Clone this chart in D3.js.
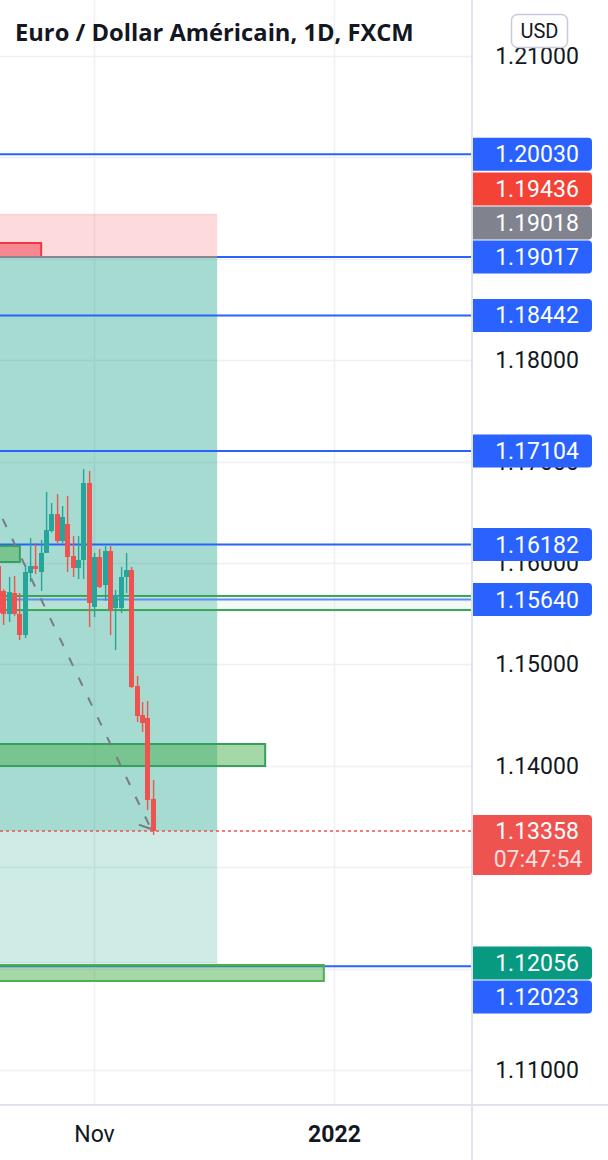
<!DOCTYPE html>
<html><head><meta charset="utf-8">
<script src="https://cdn.jsdelivr.net/npm/d3@7"></script>
<style>html,body{margin:0;padding:0;background:#fff;} svg{display:block;}</style>
</head><body>
<svg id="c" width="608" height="1160"></svg>
<script>
// ---------------- DATA ----------------
const dates = ["2021-10-06","2021-10-07","2021-10-08","2021-10-11","2021-10-12","2021-10-13","2021-10-14","2021-10-15",
  "2021-10-18","2021-10-19","2021-10-20","2021-10-21","2021-10-22","2021-10-25","2021-10-26","2021-10-27","2021-10-28","2021-10-29",
  "2021-11-01","2021-11-02","2021-11-03","2021-11-04","2021-11-05","2021-11-08","2021-11-09","2021-11-10","2021-11-11","2021-11-12",
  "2021-11-15","2021-11-16"];
const opens  = [1.15970,1.15724,1.15497,1.15704,1.15497,1.15290,1.15901,1.15970,1.15911,1.16099,1.16316,1.16483,1.16217,1.16385,1.16069,1.15951,1.16030,1.16789,
  1.15566,1.16059,1.15783,1.16118,1.15556,1.15556,1.15862,1.15931,1.14787,1.14501,1.14471,1.13673];
const highs  = [1.16010,1.15740,1.15862,1.15872,1.15704,1.15980,1.16247,1.16197,1.16227,1.16700,1.16592,1.16680,1.16562,1.16661,1.16266,1.16266,1.16927,1.16907,
  1.16099,1.16138,1.16168,1.16168,1.15734,1.15961,1.16099,1.15961,1.14886,1.14629,1.14639,1.13860];
const lows   = [1.15480,1.15389,1.15418,1.15480,1.15241,1.15260,1.15813,1.15892,1.15724,1.16099,1.16300,1.16197,1.16197,1.15911,1.15862,1.15842,1.15842,1.15369,
  1.15467,1.15753,1.15625,1.15290,1.15142,1.15507,1.15704,1.14767,1.14432,1.14333,1.13564,1.13318];
const closes = [1.15507,1.15497,1.15714,1.15497,1.15290,1.15911,1.15970,1.15941,1.16099,1.16325,1.16483,1.16217,1.16454,1.16059,1.15951,1.16030,1.16789,1.15606,
  1.16059,1.15763,1.16118,1.15536,1.15684,1.15862,1.15931,1.14777,1.14491,1.14422,1.13663,1.13358];

const priceTicks = [1.11,1.12,1.13,1.14,1.15,1.16,1.17,1.18,1.19,1.20,1.21];
const timeTickDates  = ["2021-11-01","2022-01-03"];
const timeTickLabels = ["Nov","2022"];
const timeTickBold   = [false,true];

// horizontal levels (blue)
const levelPrices = [1.20030,1.19017,1.18442,1.17104,1.16182,1.15640,1.12023];

// short position tool
const posStop = 1.19436, posEntry = 1.19018, posTarget = 1.12056, lastPrice = 1.13358;
const posStartIdx = -2, posEndIdx = 41;
const countdown = "07:47:54";

// rectangles: [startIdx, endIdx, topPrice, bottomPrice]
const greenBoxes = [
  [-2, 4, 1.16168, 1.16010],
  [-2, 50, 1.14215, 1.13998],
  [-2, 61, 1.12036, 1.11878]
];
const greenBand = [-2, 90, 1.15675, 1.15536];
const redBox = [-2, 8, 1.19156, 1.19018];

// dashed trend line with arrow: [idx, price]
const trendStart = [-1, 1.16631];
const trendEnd = [28.6, 1.13377];

const title = "Euro / Dollar Américain, 1D, FXCM";

// ---------------- SETUP ----------------
const W = 608, H = 1160, axisX = 472, axisY = 1105;
const svg = d3.select("#c");
const fmt = d3.format(".5f");

// trading calendar (weekdays)
const cal = d3.timeDay.range(new Date(2021,9,6), new Date(2022,0,4))
  .filter(d => d.getDay() % 6 !== 0).map(d3.timeFormat("%Y-%m-%d"));
const idx = s => cal.indexOf(s);

const x = d3.scaleLinear().domain([idx(timeTickDates[0]), idx(timeTickDates[1])]).range([94.5, 334.5]);
const y = d3.scaleLinear().domain([1.11, 1.21]).range([1070, 56]);

svg.append("rect").attr("width", W).attr("height", H).attr("fill", "#fff");
svg.append("defs").append("clipPath").attr("id","clip")
  .append("rect").attr("x",0).attr("y",0).attr("width",axisX).attr("height",axisY);
const g = svg.append("g").attr("clip-path","url(#clip)");

// grid
g.selectAll(".hg").data(priceTicks).join("line")
  .attr("x1",0).attr("x2",axisX).attr("y1",d=>Math.round(y(d))+0.5).attr("y2",d=>Math.round(y(d))+0.5)
  .attr("stroke","#eef0f3").attr("stroke-width",1.5);
g.selectAll(".vg").data(timeTickDates).join("line")
  .attr("x1",d=>x(idx(d))).attr("x2",d=>x(idx(d))).attr("y1",0).attr("y2",axisY)
  .attr("stroke","#eef0f3").attr("stroke-width",1.5);

// position zones
const px0 = x(posStartIdx), px1 = x(posEndIdx);
g.append("rect").attr("x",px0).attr("width",px1-px0).attr("y",y(posStop)).attr("height",y(posEntry)-y(posStop))
  .attr("fill","rgba(242,54,69,0.18)");
g.append("line").attr("x1",px0).attr("x2",px1).attr("y1",y(posStop)).attr("y2",y(posStop))
  .attr("stroke","rgba(242,54,69,0.15)").attr("stroke-width",1.5);
g.append("rect").attr("x",px0).attr("width",px1-px0).attr("y",y(posEntry)).attr("height",y(posTarget)-y(posEntry))
  .attr("fill","rgba(8,153,129,0.2)");
g.append("rect").attr("x",px0).attr("width",px1-px0).attr("y",y(posEntry)).attr("height",y(lastPrice)-y(posEntry))
  .attr("fill","rgba(8,153,129,0.2)");
g.append("line").attr("x1",px0).attr("x2",px1).attr("y1",y(posTarget)).attr("y2",y(posTarget))
  .attr("stroke","rgba(8,153,129,0.12)").attr("stroke-width",1.5);

// blue levels
g.selectAll(".lvl").data(levelPrices).join("line")
  .attr("x1",0).attr("x2",axisX).attr("y1",d=>y(d)).attr("y2",d=>y(d))
  .attr("stroke","#2962ff").attr("stroke-width",2);

// green band
g.append("rect").attr("x",x(greenBand[0])).attr("width",x(greenBand[1])-x(greenBand[0]))
  .attr("y",y(greenBand[2])).attr("height",y(greenBand[3])-y(greenBand[2]))
  .attr("fill","rgba(220,240,222,0.3)").attr("stroke","#3aa45a").attr("stroke-width",2);

// green boxes
g.selectAll(".gb").data(greenBoxes).join("rect")
  .attr("x",d=>x(d[0])).attr("width",d=>x(d[1])-x(d[0]))
  .attr("y",d=>y(d[2])).attr("height",d=>y(d[3])-y(d[2]))
  .attr("fill","rgba(76,175,80,0.5)")
  .attr("stroke",(d,i)=> i===2 ? "#4caf50" : "#36a15f").attr("stroke-width",2);

// red box
g.append("rect").attr("x",x(redBox[0])).attr("width",x(redBox[1])-x(redBox[0]))
  .attr("y",y(redBox[2])).attr("height",y(redBox[3])-y(redBox[2]))
  .attr("fill","rgba(242,54,69,0.5)").attr("stroke","#f23645").attr("stroke-width",2);

// entry line
g.append("line").attr("x1",px0).attr("x2",px1).attr("y1",y(posEntry)).attr("y2",y(posEntry))
  .attr("stroke","#858892").attr("stroke-width",2);

// last price dotted line
g.append("line").attr("x1",0).attr("x2",axisX).attr("y1",y(lastPrice)).attr("y2",y(lastPrice))
  .attr("stroke","#ef5350").attr("stroke-width",1.5).attr("stroke-dasharray","3,3");

// trend line with arrow
const t0 = [x(trendStart[0]), y(trendStart[1])], t1 = [x(trendEnd[0]), y(trendEnd[1])];
g.append("line").attr("x1",t0[0]).attr("y1",t0[1]).attr("x2",t1[0]).attr("y2",t1[1])
  .attr("stroke","#787b86").attr("stroke-width",2).attr("stroke-dasharray","9,13");
const ang = Math.atan2(t1[1]-t0[1], t1[0]-t0[0]);
[Math.PI*0.75, -Math.PI*0.75].forEach(a => {
  g.append("line").attr("x1",t1[0]).attr("y1",t1[1])
    .attr("x2",t1[0]+13*Math.cos(ang+a)).attr("y2",t1[1]+13*Math.sin(ang+a))
    .attr("stroke","#787b86").attr("stroke-width",2);
});

// candles
const bars = dates.map((d,i)=>({i:idx(d), o:opens[i], h:highs[i], l:lows[i], c:closes[i]}));
const col = d => d.c >= d.o ? "#26a69a" : "#ef5350";
const left = d => Math.round(x(d.i) - 2.5);
g.selectAll(".wick").data(bars).join("rect")
  .attr("x",d=>left(d)+1.9).attr("width",1.4)
  .attr("y",d=>y(d.h)).attr("height",d=>Math.max(1,y(d.l)-y(d.h))).attr("fill",col);
g.selectAll(".body").data(bars).join("rect")
  .attr("x",left).attr("width",5)
  .attr("y",d=>y(Math.max(d.o,d.c))).attr("height",d=>Math.max(1,Math.abs(y(d.o)-y(d.c)))).attr("fill",col);

// axes separators
svg.append("line").attr("x1",axisX).attr("x2",axisX).attr("y1",0).attr("y2",H).attr("stroke","#e0e3eb").attr("stroke-width",2);
svg.append("line").attr("x1",0).attr("x2",W).attr("y1",axisY).attr("y2",axisY).attr("stroke","#e0e3eb").attr("stroke-width",2);

// price labels with collision handling
const labels = [
  {p:1.20030, fill:"#2962ff"},
  {p:posStop, fill:"#f44336"},
  {p:posEntry, fill:"#80838d"},
  {p:1.19017, fill:"#2962ff", pin:true},
  {p:1.18442, fill:"#2962ff"},
  {p:1.17104, fill:"#2962ff"},
  {p:1.16182, fill:"#2962ff"},
  {p:1.15640, fill:"#2962ff"},
  {p:lastPrice, fill:"#ef5350", sub:countdown},
  {p:posTarget, fill:"#089981", pin:true},
  {p:1.12023, fill:"#2962ff"}
];
const LH = 34;
labels.forEach(l => { l.y0 = y(l.p); l.yc = l.y0; });
labels.sort((a,b)=>a.y0-b.y0);
labels.forEach((l,a) => {
  if (!l.pin) return;
  for (let k=a-1;k>=0;k--) { const n = Math.min(labels[k].yc, labels[k+1].yc - LH); if (n===labels[k].yc) break; labels[k].yc = n; }
  for (let k=a+1;k<labels.length;k++) { const n = Math.max(labels[k].yc, labels[k-1].yc + LH); if (n===labels[k].yc) break; labels[k].yc = n; }
});
labels.forEach(l => { l.h = l.sub ? 60 : 33; l.top = l.sub ? l.yc - 16 : l.yc - 16.5; });

// price tick labels (hidden when covered by a price label)
const visibleTicks = priceTicks.filter(t => {
  const ty = y(t);
  return !labels.some(l => ty - 8 >= l.top - 1 && ty + 8 <= l.top + l.h + 1);
});
svg.selectAll(".pt").data(visibleTicks).join("text")
  .attr("x",537).attr("y",d=>y(d)+8).attr("text-anchor","middle")
  .attr("font-family","Roboto").attr("font-size",23).attr("fill","#131722").text(fmt);

// time labels
svg.selectAll(".tt").data(timeTickDates).join("text")
  .attr("x",d=>x(idx(d))).attr("y",1142).attr("text-anchor","middle")
  .attr("font-family","Roboto").attr("font-size",23)
  .attr("font-weight",(d,i)=>timeTickBold[i]?700:400).attr("fill","#131722")
  .text((d,i)=>timeTickLabels[i]);

const lg = svg.append("g");
labels.forEach(l => {
  const top = l.top, h = l.h;
  lg.append("path")
    .attr("d", `M473,${top} H588 Q592,${top} 592,${top+4} V${top+h-4} Q592,${top+h} 588,${top+h} H473 Z`)
    .attr("fill", l.fill);
  lg.append("text").attr("x",537).attr("y", l.yc+8).attr("text-anchor","middle")
    .attr("font-family","Roboto").attr("font-size",23).attr("fill","#fff").text(fmt(l.p));
  if (l.sub) lg.append("text").attr("x",538).attr("y", l.yc+36).attr("text-anchor","middle")
    .attr("font-family","Roboto").attr("font-size",23).attr("fill","rgba(255,255,255,0.82)").text(l.sub);
});

// USD badge
svg.append("rect").attr("x",511.5).attr("y",14.5).attr("width",56).attr("height",33).attr("rx",6)
  .attr("fill","#fff").attr("stroke","#c8ccd8").attr("stroke-width",1.5);
svg.append("text").attr("x",539.5).attr("y",38).attr("text-anchor","middle")
  .attr("font-family","Roboto").attr("font-size",20).attr("fill","#131722").text("USD");

// title
const tt = svg.append("text").attr("x",15).attr("y",41)
  .attr("font-family","'Open Sans'").attr("font-weight",700).attr("font-size",22).attr("fill","#131722").text(title);
const tw = tt.node().getComputedTextLength();
tt.attr("font-size", 22*399/tw);
</script>
</body></html>
